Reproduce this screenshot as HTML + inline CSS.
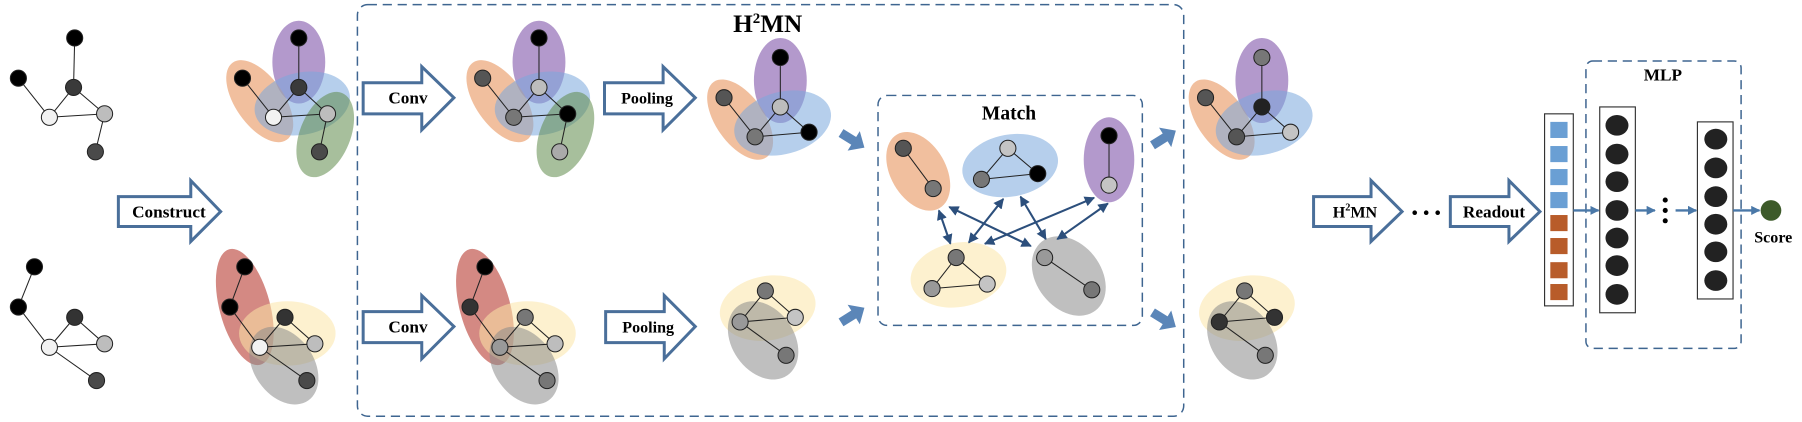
<!DOCTYPE html>
<html><head><meta charset="utf-8"><style>
html,body{margin:0;padding:0;background:#fff;width:1802px;height:422px;overflow:hidden}
svg text{font-family:"Liberation Serif",serif;font-weight:bold;fill:#000}
</style></head><body>
<svg width="1802" height="422" viewBox="0 0 1568 367" preserveAspectRatio="none" xmlns="http://www.w3.org/2000/svg">
<defs>
<marker id="ah" viewBox="0 0 10 10" refX="9" refY="5" markerWidth="5" markerHeight="5" orient="auto-start-reverse"><path d="M0,0 L10,5 L0,10 z" fill="#2c4f7c"/></marker>
<marker id="ah2" viewBox="0 0 10 10" refX="9" refY="5" markerWidth="4" markerHeight="4" orient="auto"><path d="M0,0 L10,5 L0,10 z" fill="#4a78a8"/></marker>
<g id="chunk"><polygon points="-12,-4 1,-4 1,-10 12,0 1,10 1,4 -12,4" fill="#5b86b8"/></g>
</defs>
<g stroke="#222" stroke-width="0.9">
<!-- left graph 1 -->
<g>
<line x1="65" y1="33" x2="64" y2="76"/><line x1="16" y1="68" x2="43" y2="102"/><line x1="64" y1="76" x2="43" y2="102"/><line x1="64" y1="76" x2="91" y2="99"/><line x1="43" y1="102" x2="91" y2="99"/><line x1="91" y1="99" x2="83" y2="132"/>
<circle cx="65" cy="33" r="7" fill="#000"/><circle cx="16" cy="68" r="7" fill="#000"/><circle cx="64" cy="76" r="7" fill="#3a3a3a"/><circle cx="43" cy="102" r="7" fill="#f2f2f2"/><circle cx="91" cy="99" r="7" fill="#bdbdbd"/><circle cx="83" cy="132" r="7" fill="#4a4a4a"/>
</g>
<!-- left graph 2 -->
<g>
<line x1="30" y1="232" x2="16" y2="267"/><line x1="16" y1="267" x2="43" y2="302"/><line x1="43" y1="302" x2="65" y2="276"/><line x1="65" y1="276" x2="91" y2="299"/><line x1="43" y1="302" x2="91" y2="299"/><line x1="43" y1="302" x2="84" y2="331"/>
<circle cx="30" cy="232" r="7" fill="#000"/><circle cx="16" cy="267" r="7" fill="#000"/><circle cx="65" cy="276" r="7" fill="#333"/><circle cx="43" cy="302" r="7" fill="#f2f2f2"/><circle cx="91" cy="299" r="7" fill="#bdbdbd"/><circle cx="84" cy="331" r="7" fill="#4a4a4a"/>
</g>
</g>

<!-- top hypergraphs (construct + conv) -->
<g id="top1">
<g stroke="none">
<ellipse cx="260" cy="54" rx="23" ry="36" fill="#8a63b0" opacity="0.65"/>
<ellipse cx="226" cy="88" rx="21" ry="41" fill="#e8955e" opacity="0.6" transform="rotate(-35 226 88)"/>
<ellipse cx="263" cy="90" rx="42" ry="27" fill="#7aa8dc" opacity="0.55" transform="rotate(-12 263 90)"/>
<ellipse cx="283" cy="117" rx="22" ry="39" fill="#5e8a4a" opacity="0.55" transform="rotate(22 283 117)"/>
</g>
</g>
<g stroke="#222" stroke-width="0.9">
<line x1="260" y1="33" x2="260" y2="76"/><line x1="211" y1="68" x2="238" y2="102"/><line x1="260" y1="76" x2="238" y2="102"/><line x1="260" y1="76" x2="285" y2="99"/><line x1="238" y1="102" x2="285" y2="99"/><line x1="285" y1="99" x2="278" y2="132"/>
<circle cx="260" cy="33" r="7" fill="#000"/><circle cx="211" cy="68" r="7" fill="#000"/><circle cx="260" cy="76" r="7" fill="#3a3a3a"/><circle cx="238" cy="102" r="7" fill="#f2f2f2"/><circle cx="285" cy="99" r="7" fill="#bdbdbd"/><circle cx="278" cy="132" r="7" fill="#4a4a4a"/>
</g>
<use href="#top1" x="209"/>
<g stroke="#222" stroke-width="0.9" transform="translate(209 0)">
<line x1="260" y1="33" x2="260" y2="76"/><line x1="211" y1="68" x2="238" y2="102"/><line x1="260" y1="76" x2="238" y2="102"/><line x1="260" y1="76" x2="285" y2="99"/><line x1="238" y1="102" x2="285" y2="99"/><line x1="285" y1="99" x2="278" y2="132"/>
<circle cx="260" cy="33" r="7" fill="#000"/><circle cx="211" cy="68" r="7" fill="#555"/><circle cx="260" cy="76" r="7" fill="#bdbdbd"/><circle cx="238" cy="102" r="7" fill="#777"/><circle cx="285" cy="99" r="7" fill="#000"/><circle cx="278" cy="132" r="7" fill="#aaa"/>
</g>

<!-- bottom hypergraphs -->
<g id="bot1" stroke="none">
<ellipse cx="213" cy="267" rx="22" ry="52" fill="#b83a30" opacity="0.6" transform="rotate(-15 213 267)"/>
<ellipse cx="250" cy="290" rx="42" ry="28" fill="#fbe6a8" opacity="0.55"/>
<ellipse cx="247" cy="318" rx="26" ry="37" fill="#8a8a8a" opacity="0.55" transform="rotate(-35 247 318)"/>
</g>
<g stroke="#222" stroke-width="0.9">
<line x1="213" y1="232" x2="200" y2="267"/><line x1="200" y1="267" x2="226" y2="302"/><line x1="226" y1="302" x2="248" y2="276"/><line x1="248" y1="276" x2="274" y2="299"/><line x1="226" y1="302" x2="274" y2="299"/><line x1="226" y1="302" x2="267" y2="331"/>
<circle cx="213" cy="232" r="7" fill="#000"/><circle cx="200" cy="267" r="7" fill="#000"/><circle cx="248" cy="276" r="7" fill="#333"/><circle cx="226" cy="302" r="7" fill="#f2f2f2"/><circle cx="274" cy="299" r="7" fill="#bdbdbd"/><circle cx="267" cy="331" r="7" fill="#4a4a4a"/>
</g>
<use href="#bot1" x="209"/>
<g stroke="#222" stroke-width="0.9" transform="translate(209 0)">
<line x1="213" y1="232" x2="200" y2="267"/><line x1="200" y1="267" x2="226" y2="302"/><line x1="226" y1="302" x2="248" y2="276"/><line x1="248" y1="276" x2="274" y2="299"/><line x1="226" y1="302" x2="274" y2="299"/><line x1="226" y1="302" x2="267" y2="331"/>
<circle cx="213" cy="232" r="7" fill="#000"/><circle cx="200" cy="267" r="7" fill="#333"/><circle cx="248" cy="276" r="7" fill="#777"/><circle cx="226" cy="302" r="7" fill="#999"/><circle cx="274" cy="299" r="7" fill="#bdbdbd"/><circle cx="267" cy="331" r="7" fill="#777"/>
</g>

<!-- block arrows -->
<g fill="#fff" stroke="#4a6f9a" stroke-width="2.6" stroke-linejoin="miter">
<polygon points="103,171 166,171 166,157 192,184 166,210 166,197 103,197"/>
<polygon points="316,72 367,72 367,58 395,85 367,113 367,99 316,99"/>
<polygon points="316,271 367,271 367,257 395,284 367,312 367,298 316,298"/>
<polygon points="526,72 577,72 577,58 605,85 577,113 577,99 526,99"/>
<polygon points="527,271 578,271 578,257 605,284 578,312 578,298 527,298"/>
<polygon points="1143,171 1193,171 1193,157 1220,184 1193,210 1193,197 1143,197"/>
<polygon points="1262,171 1313,171 1313,157 1340,184 1313,210 1313,197 1262,197"/>
</g>
<text x="147" y="189" font-size="15" text-anchor="middle">Construct</text>
<text x="355" y="90" font-size="15" text-anchor="middle">Conv</text>
<text x="355" y="289" font-size="15" text-anchor="middle">Conv</text>
<text x="563" y="90" font-size="14" text-anchor="middle">Pooling</text>
<text x="564" y="289" font-size="14" text-anchor="middle">Pooling</text>
<text x="1179" y="189" font-size="14" text-anchor="middle">H<tspan font-size="9" dy="-6">2</tspan><tspan dy="6">MN</tspan></text>
<text x="1300" y="189" font-size="15" text-anchor="middle">Readout</text>
<g fill="#000"><circle cx="1231" cy="185" r="2"/><circle cx="1241" cy="185" r="2"/><circle cx="1251" cy="185" r="2"/></g>

<!-- H2MN box -->
<rect x="311" y="4" width="719" height="358" rx="9" fill="none" stroke="#3e6590" stroke-width="1.3" stroke-dasharray="8,5"/>
<text x="668" y="28" font-size="22" text-anchor="middle">H<tspan font-size="13" dy="-8">2</tspan><tspan dy="8">MN</tspan></text>

<!-- pooled top -->
<g id="pt">
<g stroke="none">
<ellipse cx="679" cy="70" rx="23" ry="37" fill="#8a63b0" opacity="0.65"/>
<ellipse cx="644" cy="104" rx="21" ry="40" fill="#e8955e" opacity="0.6" transform="rotate(-35 644 104)"/>
<ellipse cx="681" cy="107" rx="43" ry="27" fill="#7aa8dc" opacity="0.55" transform="rotate(-15 681 107)"/>
</g>
</g>
<g stroke="#222" stroke-width="0.9">
<line x1="679" y1="50" x2="679" y2="93"/><line x1="630" y1="85" x2="657" y2="119"/><line x1="679" y1="93" x2="657" y2="119"/><line x1="679" y1="93" x2="704" y2="115"/><line x1="657" y1="119" x2="704" y2="115"/>
<circle cx="679" cy="50" r="7" fill="#000"/><circle cx="630" cy="85" r="7" fill="#555"/><circle cx="679" cy="93" r="7" fill="#bdbdbd"/><circle cx="657" cy="119" r="7" fill="#777"/><circle cx="704" cy="115" r="7" fill="#000"/>
</g>
<use href="#pt" x="419"/>
<g stroke="#222" stroke-width="0.9" transform="translate(419 0)">
<line x1="679" y1="50" x2="679" y2="93"/><line x1="630" y1="85" x2="657" y2="119"/><line x1="679" y1="93" x2="657" y2="119"/><line x1="679" y1="93" x2="704" y2="115"/><line x1="657" y1="119" x2="704" y2="115"/>
<circle cx="679" cy="50" r="7" fill="#777"/><circle cx="630" cy="85" r="7" fill="#555"/><circle cx="679" cy="93" r="7" fill="#222"/><circle cx="657" cy="119" r="7" fill="#555"/><circle cx="704" cy="115" r="7" fill="#c4c4c4"/>
</g>

<!-- pooled bottom -->
<g id="pb" stroke="none">
<ellipse cx="668" cy="268" rx="42" ry="28" fill="#fbe6a8" opacity="0.55" transform="rotate(-10 668 268)"/>
<ellipse cx="664" cy="296" rx="27" ry="37" fill="#8a8a8a" opacity="0.55" transform="rotate(-35 664 296)"/>
</g>
<g stroke="#222" stroke-width="0.9">
<line x1="666" y1="253" x2="644" y2="280"/><line x1="666" y1="253" x2="692" y2="276"/><line x1="644" y1="280" x2="692" y2="276"/><line x1="644" y1="280" x2="684" y2="309"/>
<circle cx="666" cy="253" r="7" fill="#777"/><circle cx="692" cy="276" r="7" fill="#c4c4c4"/><circle cx="644" cy="280" r="7" fill="#999"/><circle cx="684" cy="309" r="7" fill="#777"/>
</g>
<use href="#pb" x="417"/>
<g stroke="#222" stroke-width="0.9" transform="translate(417 0)">
<line x1="666" y1="253" x2="644" y2="280"/><line x1="666" y1="253" x2="692" y2="276"/><line x1="644" y1="280" x2="692" y2="276"/><line x1="644" y1="280" x2="684" y2="309"/>
<circle cx="666" cy="253" r="7" fill="#777"/><circle cx="692" cy="276" r="7" fill="#333"/><circle cx="644" cy="280" r="7" fill="#333"/><circle cx="684" cy="309" r="7" fill="#777"/>
</g>

<!-- chunky arrows -->
<use href="#chunk" transform="translate(742 122) rotate(32)"/>
<use href="#chunk" transform="translate(742 274) rotate(-32)"/>
<use href="#chunk" transform="translate(1013 120) rotate(-32)"/>
<use href="#chunk" transform="translate(1013 278) rotate(32)"/>

<!-- Match box -->
<rect x="764" y="83" width="230" height="200" rx="8" fill="none" stroke="#3e6590" stroke-width="1.3" stroke-dasharray="8,5"/>
<text x="878" y="104" font-size="17" text-anchor="middle">Match</text>
<g stroke="none">
<ellipse cx="799" cy="149" rx="24" ry="37" fill="#e8955e" opacity="0.6" transform="rotate(-30 799 149)"/>
<ellipse cx="879" cy="144" rx="42" ry="27" fill="#7aa8dc" opacity="0.55" transform="rotate(-10 879 144)"/>
<ellipse cx="965" cy="139" rx="22" ry="37" fill="#8a63b0" opacity="0.65"/>
<ellipse cx="834" cy="239" rx="42" ry="28" fill="#fbe6a8" opacity="0.55" transform="rotate(-10 834 239)"/>
<ellipse cx="930" cy="240" rx="28" ry="38" fill="#8a8a8a" opacity="0.55" transform="rotate(-38 930 240)"/>
</g>
<g stroke="#222" stroke-width="0.9">
<line x1="786" y1="129" x2="812" y2="164"/>
<circle cx="786" cy="129" r="7" fill="#555"/><circle cx="812" cy="164" r="7" fill="#777"/>
<line x1="877" y1="129" x2="854" y2="156"/><line x1="877" y1="129" x2="903" y2="151"/><line x1="854" y1="156" x2="903" y2="151"/>
<circle cx="877" cy="129" r="7" fill="#c4c4c4"/><circle cx="854" cy="156" r="7" fill="#777"/><circle cx="903" cy="151" r="7" fill="#000"/>
<line x1="965" y1="118" x2="965" y2="161"/>
<circle cx="965" cy="118" r="7" fill="#000"/><circle cx="965" cy="161" r="7" fill="#c4c4c4"/>
<line x1="832" y1="224" x2="811" y2="251"/><line x1="832" y1="224" x2="859" y2="247"/><line x1="811" y1="251" x2="859" y2="247"/>
<circle cx="832" cy="224" r="7" fill="#777"/><circle cx="811" cy="251" r="7" fill="#999"/><circle cx="859" cy="247" r="7" fill="#c4c4c4"/>
<line x1="909" y1="224" x2="950" y2="252"/>
<circle cx="909" cy="224" r="7" fill="#999"/><circle cx="950" cy="252" r="7" fill="#777"/>
</g>
<g stroke="#2c4f7c" stroke-width="1.8" marker-start="url(#ah)" marker-end="url(#ah)">
<line x1="817" y1="183" x2="827" y2="212"/>
<line x1="873" y1="173" x2="843" y2="211"/>
<line x1="826" y1="180" x2="897" y2="214"/>
<line x1="888" y1="171" x2="910" y2="208"/>
<line x1="952" y1="172" x2="857" y2="212"/>
<line x1="964" y1="177" x2="920" y2="208"/>
</g>

<!-- vector -->
<rect x="1344" y="99" width="25" height="167" fill="#fff" stroke="#333" stroke-width="1"/>
<g fill="#6a9fd4"><rect x="1349" y="106" width="15" height="14"/><rect x="1349" y="127" width="15" height="14"/><rect x="1349" y="147" width="15" height="14"/><rect x="1349" y="167" width="15" height="14"/></g>
<g fill="#b85c2a"><rect x="1349" y="187" width="15" height="14"/><rect x="1349" y="207" width="15" height="14"/><rect x="1349" y="228" width="15" height="14"/><rect x="1349" y="247" width="15" height="14"/></g>

<!-- MLP -->
<rect x="1380" y="53" width="135" height="250" rx="6" fill="none" stroke="#3e6590" stroke-width="1.3" stroke-dasharray="8,5"/>
<text x="1447" y="70" font-size="15" text-anchor="middle">MLP</text>
<rect x="1392" y="93" width="31" height="179" fill="#fff" stroke="#333" stroke-width="1"/>
<g fill="#222"><ellipse cx="1407" cy="109" rx="10" ry="9"/><ellipse cx="1407" cy="134" rx="10" ry="9"/><ellipse cx="1407" cy="158" rx="10" ry="9"/><ellipse cx="1407" cy="183" rx="10" ry="9"/><ellipse cx="1407" cy="207" rx="10" ry="9"/><ellipse cx="1407" cy="231" rx="10" ry="9"/><ellipse cx="1407" cy="256" rx="10" ry="9"/></g>
<rect x="1477" y="106" width="31" height="154" fill="#fff" stroke="#333" stroke-width="1"/>
<g fill="#222"><ellipse cx="1493" cy="121" rx="10" ry="9"/><ellipse cx="1493" cy="146" rx="10" ry="9"/><ellipse cx="1493" cy="171" rx="10" ry="9"/><ellipse cx="1493" cy="195" rx="10" ry="9"/><ellipse cx="1493" cy="219" rx="10" ry="9"/><ellipse cx="1493" cy="244" rx="10" ry="9"/></g>
<g stroke="#4a78a8" stroke-width="2" marker-end="url(#ah2)">
<line x1="1369" y1="183" x2="1391" y2="183"/>
<line x1="1423" y1="183" x2="1440" y2="183"/>
<line x1="1458" y1="183" x2="1476" y2="183"/>
<line x1="1508" y1="183" x2="1531" y2="183"/>
</g>
<g fill="#000"><circle cx="1449" cy="174" r="2.2"/><circle cx="1449" cy="183" r="2.2"/><circle cx="1449" cy="192" r="2.2"/></g>
<circle cx="1541" cy="183" r="9" fill="#3d5a2a"/>
<text x="1543" y="211" font-size="14" text-anchor="middle">Score</text>
</svg>
</body></html>
